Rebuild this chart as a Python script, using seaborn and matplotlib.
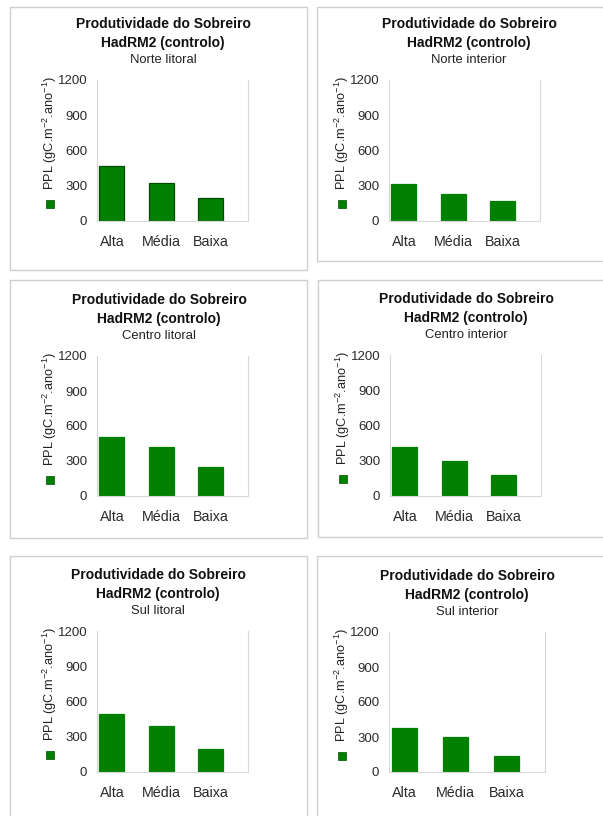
import matplotlib
matplotlib.use("Agg")
import matplotlib.pyplot as plt
from matplotlib.patches import Rectangle
import seaborn as sns
import pandas as pd

# ---- data ----
categories = ["Alta", "Média", "Baixa"]
regions = ["Norte litoral", "Norte interior", "Centro litoral",
           "Centro interior", "Sul litoral", "Sul interior"]
norte_litoral = [468, 323, 196]
norte_interior = [315, 230, 173]
centro_litoral = [502, 422, 251]
centro_interior = [416, 298, 182]
sul_litoral = [490, 390, 194]
sul_interior = [375, 303, 134]
series = [norte_litoral, norte_interior, centro_litoral,
          centro_interior, sul_litoral, sul_interior]
yticks = [0, 300, 600, 900, 1200]
title1 = "Produtividade do Sobreiro"
title2 = "HadRM2 (controlo)"
ylabel = "PPL (gC.m$^{-2}$.ano$^{-1}$)"

sns.set_theme(style="white")
plt.rcParams["font.family"] = ["Liberation Sans", "DejaVu Sans"]
plt.rcParams["mathtext.fontset"] = "custom"
plt.rcParams["mathtext.rm"] = "Liberation Sans"

W, H = 603, 816
fig = plt.figure(figsize=(W / 100, H / 100), dpi=100)
fig.patch.set_facecolor("white")

# pixel layouts: (box l, t, r, b), (axes l, t, r, b)
boxes = [(10, 7, 307, 270), (317, 7, 610, 261),
         (10, 280, 307, 538), (318, 280, 610, 537),
         (10, 556, 307, 830), (317, 556, 610, 830)]
axes_px = [(97, 80, 248, 221), (389, 80, 540, 221),
           (97, 356, 248, 496), (390, 355, 541, 496),
           (97, 631, 248, 772), (389, 632, 545, 772)]
title_cx = [163, 469, 159, 466, 158, 467]

green = "#008000"

def fx(x):
    return x / W

def fy(y):
    return 1 - y / H

for i, (reg, vals) in enumerate(zip(regions, series)):
    bl, bt, br, bb = boxes[i]
    fig.patches.append(Rectangle((fx(bl), fy(bb)), fx(br - bl), (bb - bt) / H,
                                 transform=fig.transFigure, fill=False,
                                 edgecolor="#cfcfcf", linewidth=1.0, zorder=0))
    l, t, r, b = axes_px[i]
    ax = fig.add_axes([fx(l), fy(b), fx(r - l), (b - t) / H])
    df = pd.DataFrame({"cat": categories, "val": vals})
    edge = "#004a00" if i == 0 else green
    sns.barplot(data=df, x="cat", y="val", color=green, saturation=1,
                width=0.5, edgecolor=edge, linewidth=0.9, ax=ax)
    ax.set_ylim(0, 1200)
    ax.set_yticks(yticks)
    ax.set_yticklabels([str(v) for v in yticks], fontsize=9.5, color="#2a2a2a")
    ax.tick_params(axis="y", length=0, pad=7)
    ax.tick_params(axis="x", length=0, pad=10, labelsize=10.3, labelcolor="#2a2a2a")
    ax.set_xlabel("")
    ax.set_ylabel("")
    ax.set_xlim(-0.3, 2.75)
    for s in ["left", "right", "bottom"]:
        ax.spines[s].set_visible(True)
        ax.spines[s].set_color("#d8d8d8")
        ax.spines[s].set_linewidth(0.8)
    ax.spines["top"].set_visible(False)
    ax.set_facecolor("white")

    cx = title_cx[i]
    fig.text(fx(cx), fy(t - 56), title1, ha="center", va="center",
             fontsize=10, fontweight="bold", color="#111111")
    fig.text(fx(cx), fy(t - 37), title2, ha="center", va="center",
             fontsize=10, fontweight="bold", color="#111111")
    fig.text(fx(cx), fy(t - 20), reg, ha="center", va="center",
             fontsize=9.4, color="#222222")
    # y label and legend marker
    fig.text(fx(l - 47), fy(t + 53), ylabel, rotation=90, ha="center",
             va="center", fontsize=9.2, color="#222222")
    fig.patches.append(Rectangle((fx(l - 51), fy(t + 128)), fx(8), 8 / H,
                                 transform=fig.transFigure, facecolor=green,
                                 edgecolor="#005000", linewidth=0.5))

fig.savefig("out.png", dpi=100, facecolor="white")
